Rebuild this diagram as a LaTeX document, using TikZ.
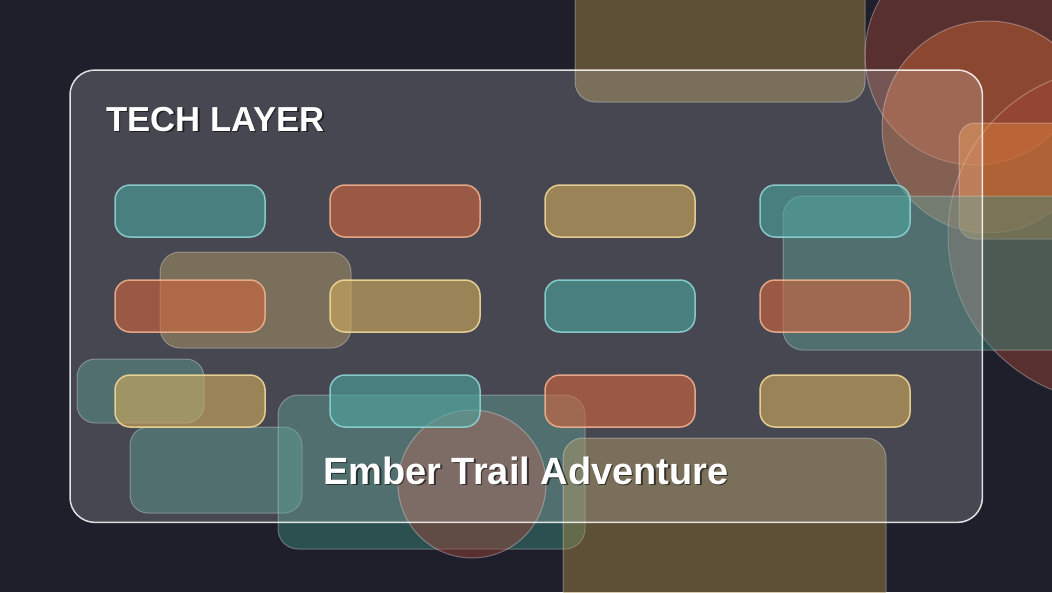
\documentclass[tikz,border=0pt]{standalone}
\usepackage{fontspec}
\setmainfont{Liberation Sans}
\definecolor{bgc}{HTML}{1E1F2A}
\definecolor{dgold}{HTML}{AA8C49}
\definecolor{dteal}{HTML}{3F8C7F}
\definecolor{dred}{HTML}{A34538}
\definecolor{dorange}{HTML}{C86432}
\definecolor{dorange2}{HTML}{E68C3C}
\definecolor{pteal}{HTML}{4DA5A0}
\definecolor{pred}{HTML}{D1663C}
\definecolor{pgold}{HTML}{D2AD5D}
\definecolor{bteal}{HTML}{8CD4D4}
\definecolor{bred}{HTML}{F0B08E}
\definecolor{bgold}{HTML}{F0D898}
\tikzset{
  deco/.style={fill=#1, fill opacity=0.45, draw=white, draw opacity=0.3, line width=1pt},
  pill/.style={rounded corners=15pt, fill=p#1, fill opacity=0.6, draw=b#1, draw opacity=0.9, line width=1.5pt},
  paneltxt/.style={text=white, font=\bfseries, inner sep=0pt},
  shadowtxt/.style={text=black, text opacity=0.55, font=\bfseries, inner sep=0pt}
}
\begin{document}
\begin{tikzpicture}[x=1pt,y=-1pt]
\useasboundingbox (0,0) rectangle (1052,592);
\fill[bgc] (0,0) rectangle (1052,592);
\begin{scope}
\clip (0,0) rectangle (1052,592);
% lower decorations
\draw[deco=dgold, rounded corners=20pt] (575,-30) rectangle (865,102);
\draw[deco=dred] (975,55) circle (110);
\draw[deco=dorange] (988,127) circle (106);
\draw[deco=dred] (1115,235) circle (167);
\draw[deco=dorange2, rounded corners=16pt] (959,123) rectangle (1090,239);
\draw[deco=dteal, rounded corners=20pt] (783,196) rectangle (1100,350);
\draw[deco=dgold, rounded corners=20pt] (160,252) rectangle (351,348);
\draw[deco=dteal, rounded corners=18pt] (77,359) rectangle (204,423);
\draw[deco=dteal, rounded corners=18pt] (130,427) rectangle (302,513);
\draw[deco=dteal, rounded corners=20pt] (278,395) rectangle (585,549);
\draw[deco=dred] (472,484) circle (74);
\draw[deco=dgold, rounded corners=20pt] (563,438) rectangle (886,630);
\end{scope}
% panel
\node[inner sep=0pt, minimum width=912pt, minimum height=452pt, anchor=north west,
      rounded corners=25pt, fill=white, fill opacity=0.18] (panel) at (70,70) {};
% pills
\foreach \c [count=\i from 0] in {teal,red,gold,teal}{
  \draw[pill=\c] (115+215*\i,185) rectangle ++(150,52);}
\foreach \c [count=\i from 0] in {red,gold,teal,red}{
  \draw[pill=\c] (115+215*\i,280) rectangle ++(150,52);}
\foreach \c [count=\i from 0] in {gold,teal,red,gold}{
  \draw[pill=\c] (115+215*\i,375) rectangle ++(150,52);}
% panel border on top
\draw[white, draw opacity=0.85, line width=1.5pt, rounded corners=25pt] (panel.north west) rectangle (panel.south east);
% texts
\node[shadowtxt, anchor=base west, font=\bfseries\fontsize{34.7}{40}\selectfont] at (107.5,132.5) {TECH LAYER};
\node[paneltxt, anchor=base west, font=\bfseries\fontsize{34.7}{40}\selectfont] (title) at (106,131) {TECH LAYER};
\node[shadowtxt, anchor=base west, font=\bfseries\fontsize{38}{44}\selectfont] at (324.5,485.5) {Ember Trail Adventure};
\node[paneltxt, anchor=base west, font=\bfseries\fontsize{38}{44}\selectfont] (name) at (323,484) {Ember Trail Adventure};
\end{tikzpicture}
\end{document}
